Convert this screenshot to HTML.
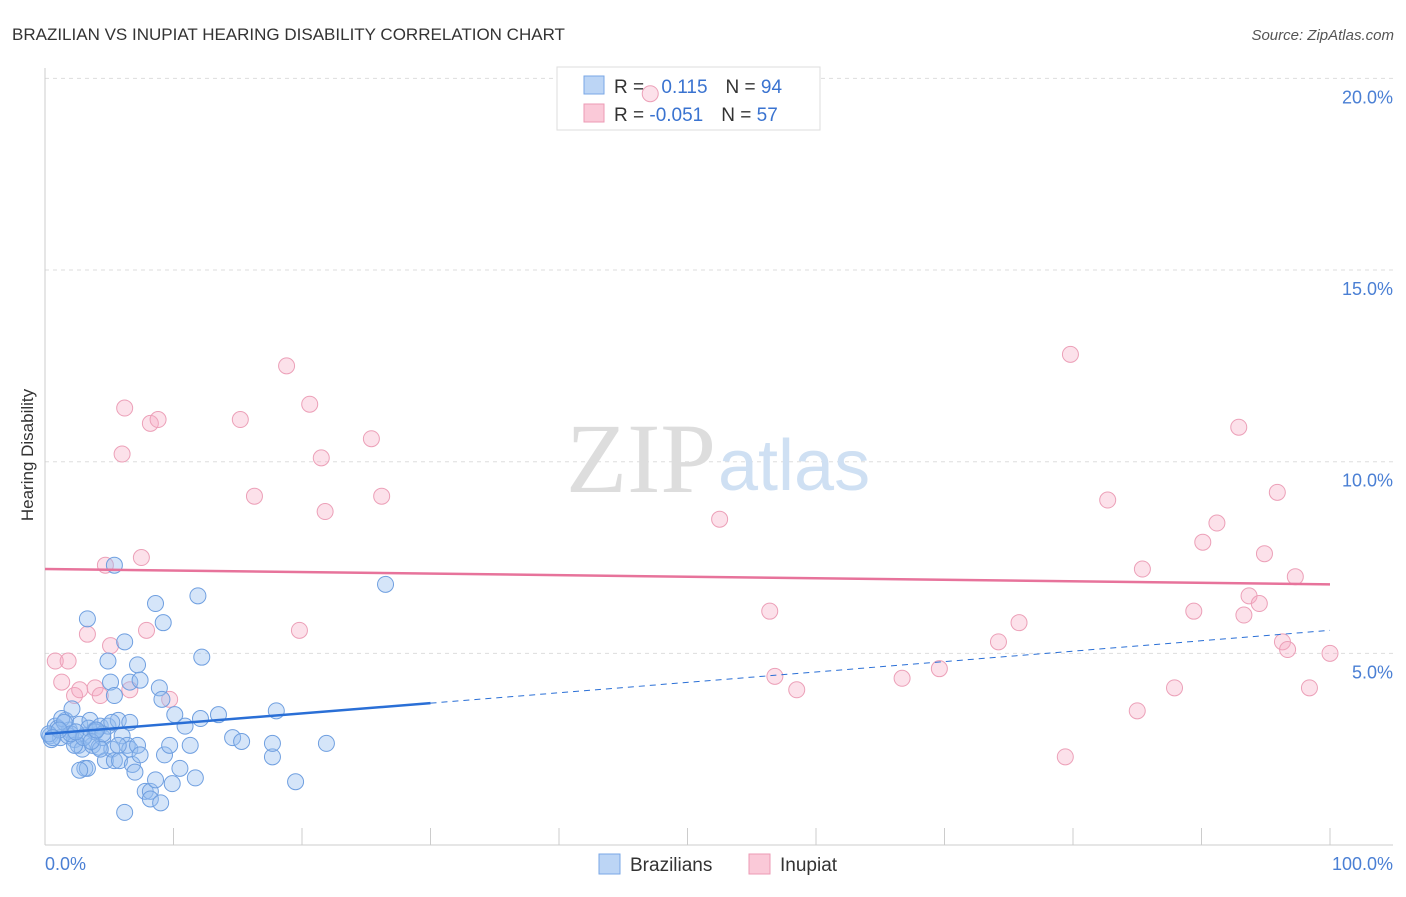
<!DOCTYPE html>
<html><head><meta charset="utf-8"><style>
body{margin:0;background:#fff;font-family:"Liberation Sans",sans-serif}
svg text{font-family:"Liberation Sans",sans-serif}
</style></head><body>
<svg id="svg" width="1406" height="892">
<text x="12" y="40" font-size="17" fill="#333">BRAZILIAN VS INUPIAT HEARING DISABILITY CORRELATION CHART</text>
<text x="1394" y="40" font-size="15" fill="#555" font-style="italic" text-anchor="end">Source: ZipAtlas.com</text>
<g id="grid"></g>
<line x1="45" y1="68" x2="45" y2="845" stroke="#ccc"/>
<line x1="45" y1="845" x2="1393" y2="845" stroke="#ccc"/>
<text x="716" y="492" font-size="100" fill="#ddd" text-anchor="end" style="font-family:'Liberation Serif',serif">ZIP</text>
<text x="718" y="490" font-size="72" fill="#cfe0f3">atlas</text>
<g>
<rect x="557" y="67" width="263" height="63" fill="#fff" stroke="#ddd"/>
<rect x="584" y="76" width="20" height="18" fill="#bcd5f5" stroke="#7aa7e6"/>
<rect x="584" y="104" width="20" height="18" fill="#fac9d8" stroke="#ec9ab4"/>
<text x="614" y="93" font-size="19" fill="#333">R = <tspan fill="#3a73d0" dx="12">0.115</tspan><tspan dx="18">N = </tspan><tspan fill="#3a73d0">94</tspan></text>
<text x="614" y="121" font-size="19" fill="#333">R = <tspan fill="#3a73d0">-0.051</tspan><tspan dx="18">N = </tspan><tspan fill="#3a73d0">57</tspan></text>
</g>
<g id="pts"></g>
<g id="trend"></g>
<text x="33" y="455" font-size="17" fill="#333" text-anchor="middle" transform="rotate(-90 33 455)">Hearing Disability</text>
<text x="45" y="870" font-size="18" fill="#4a7fd4">0.0%</text>
<text x="1393" y="870" font-size="18" fill="#4a7fd4" text-anchor="end">100.0%</text>
<g>
<rect x="599" y="854" width="21" height="20" fill="#bcd5f5" stroke="#7aa7e6"/>
<text x="630" y="871" font-size="19" fill="#333">Brazilians</text>
<rect x="749" y="854" width="21" height="20" fill="#fac9d8" stroke="#ec9ab4"/>
<text x="780" y="871" font-size="19" fill="#333">Inupiat</text>
</g>
</svg>
<script>
const yTicks=[5,10,15,20];
const yTickLabels=["5.0%","10.0%","15.0%","20.0%"];
const xTicks=[10,20,30,40,50,60,70,80,90,100];
const pinkX=[0.8,1.8,1.3,2.3,2.7,3.9,4.3,5.1,3.3,4.7,6.0,6.2,7.5,6.6,8.2,8.8,7.9,9.7,15.2,16.3,18.8,20.6,21.5,21.8,19.8,25.4,26.2,52.5,56.4,56.8,58.5,66.7,69.6,74.2,75.8,79.8,82.7,85.0,85.4,87.9,89.4,90.1,91.2,92.9,93.3,93.7,94.5,94.9,95.9,96.3,96.7,97.3,98.4,100,79.4,47.1];
const pinkY=[4.8,4.8,4.25,3.9,4.05,4.1,3.9,5.2,5.5,7.3,10.2,11.4,7.5,4.05,11.0,11.1,5.6,3.8,11.1,9.1,12.5,11.5,10.1,8.7,5.6,10.6,9.1,8.5,6.1,4.4,4.05,4.35,4.6,5.3,5.8,12.8,9.0,3.5,7.2,4.1,6.1,7.9,8.4,10.9,6.0,6.5,6.3,7.6,9.2,5.3,5.1,7.0,4.1,5.0,2.3,19.6];
const blueX=[0.4,0.8,1.2,1.6,1.9,2.3,2.7,3.1,3.5,3.9,4.3,0.5,1.0,1.3,1.8,2.1,2.6,2.9,3.4,3.7,4.2,4.5,4.7,4.9,5.2,5.4,5.7,5.8,6.0,6.2,6.4,6.6,6.8,7.0,7.2,7.4,7.8,8.2,8.6,8.9,9.1,9.3,9.7,9.9,10.1,10.5,10.9,11.3,11.7,11.9,12.1,12.2,4.9,5.1,5.4,3.3,5.4,6.2,6.6,7.2,7.4,8.6,9.2,13.5,14.6,15.3,17.7,18.0,17.7,19.5,21.9,26.5,3.1,3.3,2.7,2.3,3.9,4.3,4.5,5.2,5.7,6.6,8.2,9.0,0.3,1.5,2.0,3.0,1.1,2.4,3.6,4.0,0.6];
const blueY=[2.85,3.1,2.8,3.25,3.0,2.75,3.15,2.85,3.25,3.0,3.1,2.75,3.05,3.3,2.85,3.55,2.6,2.5,3.05,2.6,2.55,2.8,2.2,3.1,2.5,2.2,3.25,2.2,2.85,0.85,2.6,2.5,2.1,1.9,2.6,2.35,1.4,1.4,1.7,4.1,3.8,2.35,2.6,1.6,3.4,2.0,3.1,2.6,1.75,6.5,3.3,4.9,4.8,4.25,3.9,5.9,7.3,5.3,4.25,4.7,4.3,6.3,5.8,3.4,2.8,2.7,2.3,3.5,2.65,1.65,2.65,6.8,2.0,2.0,1.95,2.6,2.95,2.5,2.9,3.2,2.6,3.2,1.2,1.1,2.9,3.2,2.9,2.8,3.0,2.95,2.7,3.0,2.8];
const blueTrend=[2.9,3.7,5.6];
const blueTrendX=[0,30,100];
const pinkTrend=[7.2,6.8];
const NS="http://www.w3.org/2000/svg";
const sx=v=>45+v*12.85, sy=v=>845-v*38.33;
function mk(t,a,p){const e=document.createElementNS(NS,t);for(const k in a)e.setAttribute(k,a[k]);p.appendChild(e);return e;}
const grid=document.getElementById('grid');
yTicks.forEach((t,i)=>{
 const l=mk('line',{x1:45,x2:1393,y1:sy(t),y2:sy(t),stroke:'#ddd','stroke-dasharray':'4 4'},grid);
 
 
 const tx=mk('text',{x:1393,y:sy(t)+25,'font-size':18,fill:'#4a7fd4','text-anchor':'end'},grid);
 tx.textContent=yTickLabels[i];
 
 
});
xTicks.forEach(t=>{
 const l=mk('line',{x1:sx(t),x2:sx(t),y1:828,y2:845,stroke:'#ccc'},grid);
 
 
});
const pts=document.getElementById('pts');
pinkX.forEach((x,i)=>{
 const c=mk('circle',{cx:sx(x),cy:sy(pinkY[i]),r:8,fill:'rgba(245,170,195,0.35)',stroke:'#eca0b8','stroke-width':1},pts);
 
 
});
blueX.forEach((x,i)=>{
 const c=mk('circle',{cx:sx(x),cy:sy(blueY[i]),r:8,fill:'rgba(150,190,240,0.4)',stroke:'#6f9fe0','stroke-width':1},pts);
 
 
});
const tr=document.getElementById('trend');
const b1=mk('line',{x1:sx(blueTrendX[0]),y1:sy(blueTrend[0]),x2:sx(blueTrendX[1]),y2:sy(blueTrend[1]),stroke:'#2a6fd6','stroke-width':2.5},tr);


const b2=mk('line',{x1:sx(blueTrendX[1]),y1:sy(blueTrend[1]),x2:sx(blueTrendX[2]),y2:sy(blueTrend[2]),stroke:'#2a6fd6','stroke-width':1,'stroke-dasharray':'6 5'},tr);


const p1=mk('line',{x1:sx(0),y1:sy(pinkTrend[0]),x2:sx(100),y2:sy(pinkTrend[1]),stroke:'#e7739b','stroke-width':2.5},tr);


</script>
</body></html>
